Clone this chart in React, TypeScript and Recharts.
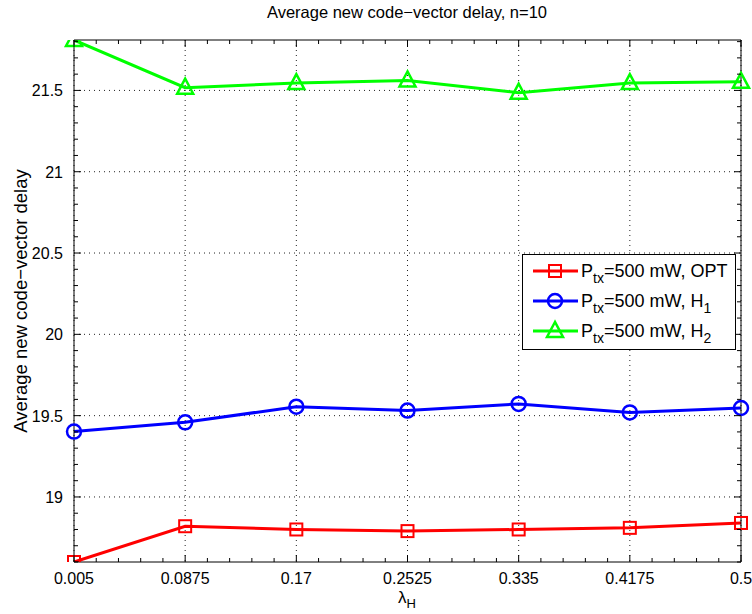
import React from "react";
import { LineChart, Line, XAxis, YAxis, CartesianGrid, Legend } from "recharts";

const lambdaH = [0.005, 0.0875, 0.17, 0.2525, 0.335, 0.4175, 0.5];
const optDelay = [18.6, 18.82, 18.8, 18.79, 18.8, 18.81, 18.84];
const h1Delay = [19.402, 19.459, 19.555, 19.531, 19.572, 19.52, 19.547];
const h2Delay = [21.81, 21.517, 21.545, 21.561, 21.486, 21.545, 21.553];

const xTicks = [0.005, 0.0875, 0.17, 0.2525, 0.335, 0.4175, 0.5];
const xTickLabels = ["0.005", "0.0875", "0.17", "0.2525", "0.335", "0.4175", "0.5"];
const yTicks = [19, 19.5, 20, 20.5, 21, 21.5];
const yTickLabels = ["19", "19.5", "20", "20.5", "21", "21.5"];
const xDomain = [0.005, 0.5];
const yDomain = [18.6, 21.81];

// minor tick positions (axis decoration only)
const xMinor = Array.from({ length: 31 }, (_, i) => 0.005 + i * 0.0165);
const yMinor = Array.from({ length: 33 }, (_, i) => 18.6 + i * 0.1);

const data = lambdaH.map((x, i) => ({
  x,
  opt: optDelay[i],
  h1: h1Delay[i],
  h2: h2Delay[i],
}));

const FONT = '"Liberation Sans", Arial, Helvetica, sans-serif';
const RED = "#ff0000";
const BLUE = "#0000ff";
const GREEN = "#00ff00";

const SquareDot = (props: any) => {
  const { cx, cy, index } = props;
  if (cx == null || cy == null) return <g key={"s" + index} />;
  return (
    <rect key={"s" + index} x={cx - 6} y={cy - 6} width={12} height={12} fill="none" stroke={RED} strokeWidth={2} />
  );
};

const CircleDot = (props: any) => {
  const { cx, cy, index } = props;
  if (cx == null || cy == null) return <g key={"c" + index} />;
  return <circle key={"c" + index} cx={cx} cy={cy} r={7} fill="none" stroke={BLUE} strokeWidth={2.5} />;
};

const TriDot = (props: any) => {
  const { cx, cy, index } = props;
  if (cx == null || cy == null) return <g key={"t" + index} />;
  return (
    <polygon
      key={"t" + index}
      points={`${cx},${cy - 9} ${cx - 8},${cy + 6} ${cx + 8},${cy + 6}`}
      fill="none"
      stroke={GREEN}
      strokeWidth={2.5}
    />
  );
};

// custom tick: draws inward tick line (long for major, short for minor) and label for majors
const findMajor = (v: number, majors: number[]) => majors.findIndex((m) => Math.abs(m - v) < 1e-6);

const makeTick = (side: "bottom" | "top" | "left" | "right") => (props: any) => {
  const { x, y, payload, index } = props;
  const v = payload.value;
  const majors = side === "bottom" || side === "top" ? xTicks : yTicks;
  const labels = side === "bottom" ? xTickLabels : yTickLabels;
  const mi = findMajor(v, majors);
  const len = mi >= 0 ? 7 : 4;
  let line;
  if (side === "bottom") line = <line x1={x} x2={x} y1={y} y2={y - len} stroke="#000" />;
  else if (side === "top") line = <line x1={x} x2={x} y1={y} y2={y + len} stroke="#000" />;
  else if (side === "left") line = <line x1={x} x2={x + len} y1={y} y2={y} stroke="#000" />;
  else line = <line x1={x} x2={x - len} y1={y} y2={y} stroke="#000" />;
  return (
    <g key={side + index}>
      {line}
      {mi >= 0 && side === "bottom" && (
        <text x={x} y={y + 22} textAnchor="middle" fontSize={16} fontFamily={FONT} fill="#000">
          {labels[mi]}
        </text>
      )}
      {mi >= 0 && side === "left" && (
        <text x={x - 11} y={y + 6} textAnchor="end" fontSize={16} fontFamily={FONT} fill="#000">
          {labels[mi]}
        </text>
      )}
    </g>
  );
};

const legendRows = [
  { color: RED, shape: "square", sym: "OPT", sub: "" },
  { color: BLUE, shape: "circle", sym: "H", sub: "1" },
  { color: GREEN, shape: "tri", sym: "H", sub: "2" },
];

const LegendMarker = ({ shape, color }: { shape: string; color: string }) => {
  const cx = 32;
  const cy = 15;
  return (
    <svg width={56} height={30} style={{ display: "block" }}>
      <line x1={10} x2={55} y1={cy} y2={cy} stroke={color} strokeWidth={3} />
      {shape === "square" && (
        <rect x={cx - 6} y={cy - 6} width={12} height={12} fill="none" stroke={color} strokeWidth={2} />
      )}
      {shape === "circle" && <circle cx={cx} cy={cy} r={7} fill="none" stroke={color} strokeWidth={2.5} />}
      {shape === "tri" && (
        <polygon
          points={`${cx},${cy - 9} ${cx - 8},${cy + 6} ${cx + 8},${cy + 6}`}
          fill="none"
          stroke={color}
          strokeWidth={2.5}
        />
      )}
    </svg>
  );
};

const subStyle = { fontSize: 14, lineHeight: 0, verticalAlign: -6 };

const renderLegend = () => (
  <div
    style={{
      width: 212,
      height: 93,
      border: "1px solid #000",
      background: "#fff",
      fontFamily: FONT,
      fontSize: 18,
      color: "#000",
      paddingTop: 1,
      boxSizing: "content-box",
    }}
  >
    {legendRows.map((r, i) => (
      <div key={i} style={{ display: "flex", alignItems: "center", height: 30 }}>
        <LegendMarker shape={r.shape} color={r.color} />
        <span style={{ marginLeft: 2, whiteSpace: "nowrap", lineHeight: "20px" }}>
          P<sub style={subStyle}>tx</sub>=500 mW, {r.sym}
          {r.sub && <sub style={subStyle}>{r.sub}</sub>}
        </span>
      </div>
    ))}
  </div>
);

export default function App() {
  return (
    <div
      style={{
        position: "absolute",
        left: 0,
        top: 0,
        width: 752,
        height: 614,
        background: "#fff",
        fontFamily: FONT,
      }}
    >
      <LineChart width={752} height={614} data={data} margin={{ top: 39, right: 10, bottom: 51, left: 73 }}>
        <CartesianGrid
          xAxisId="bottom"
          yAxisId="left"
          stroke="#222"
          strokeDasharray="1 4"
          horizontalValues={yTicks}
          verticalValues={xTicks}
        />
        <XAxis
          xAxisId="bottom"
          dataKey="x"
          type="number"
          domain={xDomain}
          ticks={xMinor}
          interval={0}
          height={1}
          tickSize={0}
          tickMargin={0}
          tickLine={false}
          tick={makeTick("bottom")}
          axisLine={{ stroke: "#000" }}
        />
        <XAxis
          xAxisId="top"
          orientation="top"
          dataKey="x"
          type="number"
          domain={xDomain}
          ticks={xMinor}
          interval={0}
          height={1}
          tickSize={0}
          tickMargin={0}
          tickLine={false}
          tick={makeTick("top")}
          axisLine={{ stroke: "#000" }}
        />
        <YAxis
          yAxisId="left"
          type="number"
          domain={yDomain}
          ticks={yMinor}
          interval={0}
          width={1}
          tickSize={0}
          tickMargin={0}
          tickLine={false}
          tick={makeTick("left")}
          axisLine={{ stroke: "#000" }}
          allowDataOverflow
        />
        <YAxis
          yAxisId="right"
          orientation="right"
          type="number"
          domain={yDomain}
          ticks={yMinor}
          interval={0}
          width={1}
          tickSize={0}
          tickMargin={0}
          tickLine={false}
          tick={makeTick("right")}
          axisLine={{ stroke: "#000" }}
          allowDataOverflow
        />
        <Line
          xAxisId="bottom"
          yAxisId="left"
          dataKey="opt"
          stroke={RED}
          strokeWidth={3}
          dot={SquareDot}
          activeDot={false}
          isAnimationActive={false}
        />
        <Line
          xAxisId="bottom"
          yAxisId="left"
          dataKey="h1"
          stroke={BLUE}
          strokeWidth={3}
          dot={CircleDot}
          activeDot={false}
          isAnimationActive={false}
        />
        <Line
          xAxisId="bottom"
          yAxisId="left"
          dataKey="h2"
          stroke={GREEN}
          strokeWidth={3}
          dot={TriDot}
          activeDot={false}
          isAnimationActive={false}
        />
        <Legend
          layout="horizontal"
          verticalAlign="middle"
          align="center"
          content={renderLegend}
          wrapperStyle={{ left: 522, top: 254, width: 214, height: 95 }}
        />
      </LineChart>
      <div
        style={{
          position: "absolute",
          left: 407,
          top: 12,
          transform: "translate(-50%, -50%)",
          fontSize: 16.5,
          whiteSpace: "nowrap",
          color: "#000",
        }}
      >
        Average new code−vector delay, n=10
      </div>
      <div
        style={{
          position: "absolute",
          left: 21,
          top: 301,
          transform: "translate(-50%, -50%) rotate(-90deg)",
          fontSize: 18.5,
          whiteSpace: "nowrap",
          color: "#000",
        }}
      >
        Average new code−vector delay
      </div>
      <div
        style={{
          position: "absolute",
          left: 407,
          top: 598,
          transform: "translate(-50%, -50%)",
          fontSize: 17,
          whiteSpace: "nowrap",
          color: "#000",
        }}
      >
        λ<sub style={{ fontSize: 13, lineHeight: 0, verticalAlign: -5 }}>H</sub>
      </div>
    </div>
  );
}
